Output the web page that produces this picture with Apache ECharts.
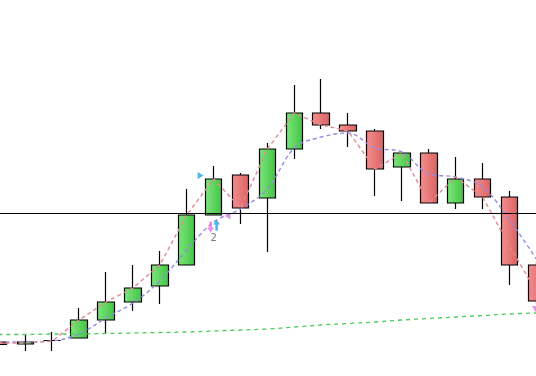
<!DOCTYPE html>
<html>
<head>
<meta charset="utf-8">
<script src="https://cdn.jsdelivr.net/npm/echarts@6/dist/echarts.min.js"></script>
<style>html,body{margin:0;padding:0;background:#fff}#c{width:536px;height:376px}</style>
</head>
<body>
<div id="c"></div>
<script>
// Bar positions (index along the time axis)
var categories = [0,1,2,3,4,5,6,7,8,9,10,11,12,13,14,15,16,17,18,19,20];
// OHLC
var opens  = [13.4, 13.2, 13.55, 13.8, 15.6, 17.4, 19.0, 21.1, 26.1, 30.1, 27.8, 32.7, 36.3, 35.1, 34.5, 30.9, 32.3, 27.3, 29.7, 27.9, 21.1];
var closes = [13.15,13.4, 13.55, 15.6, 17.4, 18.8, 21.1, 26.1, 29.7, 26.8, 32.7, 36.3, 35.1, 34.5, 30.7, 32.3, 27.3, 29.7, 27.9, 21.1, 17.5];
var lows   = [12.9, 12.5, 12.5, 13.8, 14.3, 16.5, 17.2, 21.1, 26.1, 25.2, 22.4, 31.7, 34.7, 32.9, 28.0, 27.5, 27.3, 26.7, 26.7, 19.1, 17.2];
var highs  = [13.6, 14.2, 14.4, 16.8, 20.4, 21.1, 22.5, 28.7, 31.0, 30.3, 33.3, 39.1, 39.7, 36.3, 34.7, 32.3, 32.7, 31.9, 31.3, 28.5, 21.4];
// Dashed indicator lines
var fastLine = [13.3, 13.3, 13.5, 15.6, 17.4, 18.8, 21.1, 26.1, 29.7, 26.8, 32.7, 36.3, 35.1, 34.5, 30.7, 32.3, 27.3, 29.9, 27.9, 23.0, 18.4];
var midLine  = [13.4, 13.4, 13.5, 14.2, 15.8, 17.3, 19.5, 22.6, 25.4, 26.7, 28.7, 32.8, 33.9, 34.3, 32.8, 32.4, 30.2, 29.9, 28.9, 25.6, 21.7];
var slowLine = [14.15,14.15,14.2, 14.2, 14.25,14.3, 14.35,14.4, 14.5, 14.6, 14.7, 14.9, 15.1, 15.25,15.4, 15.6, 15.75,15.9, 16.05,16.2, 16.3];
// Horizontal level
var levelValue = 26.3;
// Signal markers: [barIndex, value]
var buyTriangle  = [[8, 30.05]];
var sellTriangle = [[8, 26.0]];
var downArrow    = [[8, 24.9]];
var upArrow      = [[8, 25.1]];
var countLabel   = [[8, 23.8, '2']];
var sellDown     = [[20, 16.7]];
// Visible window of the time axis
var xMin = 0.058, xMax = 19.984;

var ohlc = categories.map(function(x, i){ return [x, opens[i], closes[i], lows[i], highs[i]]; });
function pairs(arr){ return categories.map(function(x, i){ return [x, arr[i]]; }); }

var chart = echarts.init(document.getElementById('c'), null, {renderer:'canvas'});
var greenFill = new echarts.graphic.LinearGradient(0,0,1,0,[{offset:0,color:'#80e480'},{offset:1,color:'#40c540'}]);
var redFill = new echarts.graphic.LinearGradient(0,0,1,0,[{offset:0,color:'#f29090'},{offset:1,color:'#dc6060'}]);
var arrowPath = 'path://M3.5,0 L7,4.5 L4.8,4.5 L4.8,10 L2.2,10 L2.2,4.5 L0,4.5 Z';

chart.setOption({
  animation: false,
  backgroundColor: '#ffffff',
  grid: {left: 0, right: 0, top: 0, bottom: 0, containLabel: false},
  xAxis: {type:'value', min: xMin, max: xMax, show: false},
  yAxis: {type:'value', min: 10, max: 47.6, show: false},
  series: [
    {
      type: 'candlestick',
      data: ohlc,
      barWidth: 17,
      z: 2,
      itemStyle: {color: greenFill, color0: redFill, borderColor: '#000', borderColor0: '#000', borderWidth: 1.2},
      markLine: {
        silent: true, symbol: 'none', z: 10,
        label: {show: false},
        lineStyle: {color: '#000', type: 'solid', width: 1},
        data: [{yAxis: levelValue}]
      }
    },
    {type:'line', data: pairs(slowLine), symbol:'none', smooth: true, z: 5,
     lineStyle:{color:'#48cc58', width:1.3, type:[4,4]}},
    {type:'line', data: pairs(midLine), symbol:'none', smooth: 0.35, z: 5,
     lineStyle:{color:'#938be8', width:1.4, type:[4,3]}},
    {type:'line', data: pairs(fastLine), symbol:'none', smooth: false, z: 5,
     lineStyle:{color:'#e28a94', width:1.4, type:[4,3]}},
    {type:'scatter', data: buyTriangle, symbol:'triangle', symbolRotate:-90, symbolSize:[7,6], symbolOffset:[-13,0], z:6,
     itemStyle:{color:'#1fa6e6'}},
    {type:'scatter', data: sellTriangle, symbol:'triangle', symbolRotate:90, symbolSize:[7,6], symbolOffset:[14,0], z:6,
     itemStyle:{color:'#d77ee3'}},
    {type:'scatter', data: downArrow, symbol: arrowPath, symbolRotate:180, symbolSize:[7,11], symbolOffset:[-3,0], z:6,
     itemStyle:{color:'#e772e2'}},
    {type:'scatter', data: upArrow, symbol: arrowPath, symbolSize:[7,11], symbolOffset:[3,0], z:6,
     itemStyle:{color:'#1fa6e6'}},
    {type:'scatter', data: countLabel, symbol:'circle', symbolSize:1, z:6, itemStyle:{color:'rgba(0,0,0,0)'},
     label:{show:true, position:'inside', formatter:function(p){return p.data[2];}, color:'#555', fontSize:10, fontFamily:'DejaVu Sans'}},
    {type:'scatter', data: sellDown, symbol:'triangle', symbolRotate:180, symbolSize:[7,6], symbolOffset:[-1,0], z:6, clip:false,
     itemStyle:{color:'#d77ee3'}}
  ]
});
</script>
</body>
</html>
